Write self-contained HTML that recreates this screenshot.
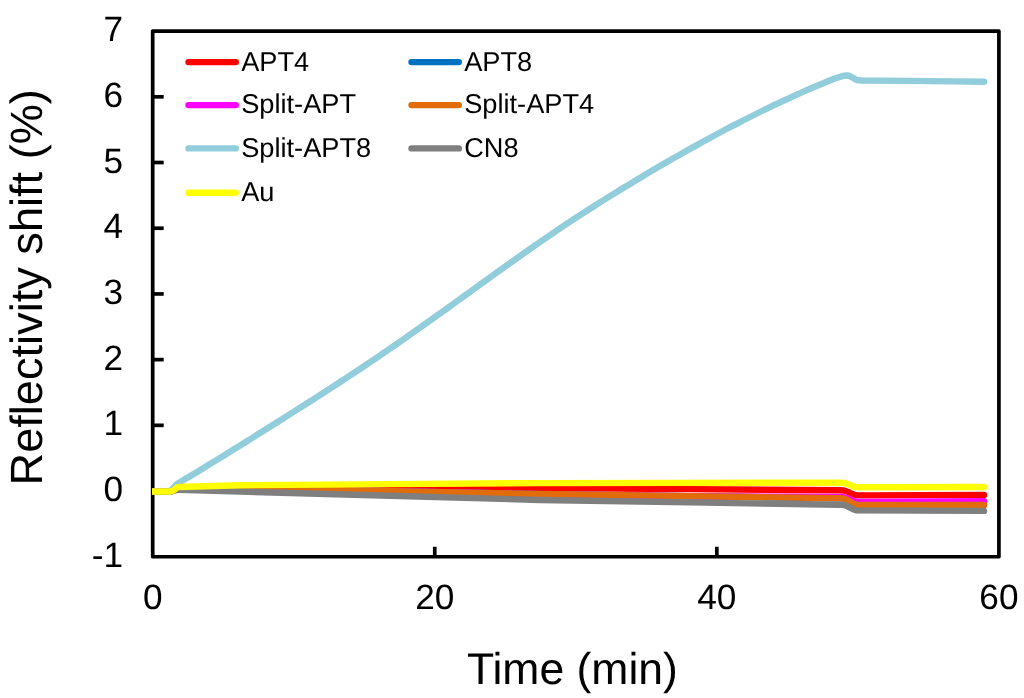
<!DOCTYPE html>
<html lang="en">
<head>
<meta charset="utf-8">
<title>Reflectivity shift vs Time</title>
<style>
html,body{margin:0;padding:0;background:#fff;}
body{width:1024px;height:698px;overflow:hidden;}
svg{display:block;will-change:transform;}
text{font-family:"Liberation Sans", Arial, Helvetica, sans-serif;fill:#000;text-rendering:geometricPrecision;}
.tick{font-size:35.2px;}
.leg{font-size:27.2px;}
</style>
</head>
<body>
<svg width="1024" height="698" viewBox="0 0 1024 698">
<rect x="0" y="0" width="1024" height="698" fill="#ffffff"/>
<rect x="152.7" y="31.1" width="846.20" height="525.65" fill="none" stroke="#000" stroke-width="3.7" stroke-linejoin="round"/>
<g stroke="#000" stroke-width="3.7" fill="none">
<line x1="152.7" y1="491.04" x2="163.7" y2="491.04"/>
<line x1="152.7" y1="425.34" x2="163.7" y2="425.34"/>
<line x1="152.7" y1="359.63" x2="163.7" y2="359.63"/>
<line x1="152.7" y1="293.93" x2="163.7" y2="293.93"/>
<line x1="152.7" y1="228.22" x2="163.7" y2="228.22"/>
<line x1="152.7" y1="162.51" x2="163.7" y2="162.51"/>
<line x1="152.7" y1="96.81" x2="163.7" y2="96.81"/>
<line x1="434.77" y1="556.75" x2="434.77" y2="546.75"/>
<line x1="716.83" y1="556.75" x2="716.83" y2="546.75"/>
</g>
<clipPath id="pc"><rect x="152" y="29.1" width="848.9" height="529.6"/></clipPath>
<g clip-path="url(#pc)">
<polyline points="152.7,491.5 170.2,491.5 172.0,490.9 173.3,490.5 174.6,489.6 176.0,488.5 177.3,487.6 178.6,487.2 240.0,487.0 390.0,487.5 540.0,488.0 690.0,489.1 840.0,490.3 844.0,490.5 846.0,491.1 848.0,491.9 850.0,492.9 852.0,493.8 854.0,494.6 856.0,495.2 858.0,495.4 984.0,494.9" fill="none" stroke="#FF0000" stroke-width="6.4" stroke-linecap="round" stroke-linejoin="round"/>
<polyline points="152.7,491.5 170.2,491.5 172.0,490.9 173.3,490.5 174.6,489.7 176.0,488.6 177.3,487.8 178.6,487.4 240.0,488.2 390.0,491.1 540.0,494.1 690.0,496.2 840.0,498.3 844.0,498.6 846.0,499.3 848.0,500.4 850.0,501.6 852.0,502.8 854.0,503.9 856.0,504.6 858.0,504.9 984.0,505.0" fill="none" stroke="#0070C0" stroke-width="6.4" stroke-linecap="round" stroke-linejoin="round"/>
<polyline points="152.7,491.5 170.2,491.5 172.0,490.9 173.3,490.5 174.6,489.7 176.0,488.6 177.3,487.8 178.6,487.4 240.0,488.2 390.0,491.1 540.0,494.1 690.0,496.3 840.0,497.0 844.0,497.2 846.0,497.8 848.0,498.6 850.0,499.4 852.0,500.3 854.0,501.1 856.0,501.7 858.0,501.9 984.0,501.3" fill="none" stroke="#FF00FF" stroke-width="6.4" stroke-linecap="round" stroke-linejoin="round"/>
<polyline points="152.7,491.5 170.2,491.5 172.0,490.9 173.3,490.5 174.6,489.7 176.0,488.6 177.3,487.8 178.6,487.4 240.0,488.2 390.0,491.1 540.0,494.0 690.0,496.1 840.0,498.3 844.0,498.6 846.0,499.3 848.0,500.4 850.0,501.6 852.0,502.8 854.0,503.9 856.0,504.6 858.0,504.9 984.0,505.0" fill="none" stroke="#E36C0A" stroke-width="6.4" stroke-linecap="round" stroke-linejoin="round"/>
<polyline points="152.7,491.5 170.2,491.5 177.0,484.0 180.0,482.2 186.0,478.6 192.0,475.0 198.0,471.4 204.0,467.7 210.0,464.1 216.0,460.4 222.0,456.7 228.0,453.0 234.0,449.3 240.0,445.6 246.0,441.8 252.0,438.1 258.0,434.3 264.0,430.5 270.0,426.8 276.0,423.0 282.0,419.2 288.0,415.4 294.0,411.6 300.0,407.8 306.0,404.0 312.0,400.2 318.0,396.4 324.0,392.5 330.0,388.6 336.0,384.7 342.0,380.8 348.0,376.9 354.0,372.9 360.0,369.0 366.0,364.9 372.0,360.9 378.0,356.8 384.0,352.7 390.0,348.6 396.0,344.5 402.0,340.3 408.0,336.1 414.0,331.9 420.0,327.7 426.0,323.4 432.0,319.2 438.0,314.9 444.0,310.6 450.0,306.3 456.0,302.0 462.0,297.6 468.0,293.3 474.0,289.0 480.0,284.6 486.0,280.3 492.0,276.0 498.0,271.7 504.0,267.4 510.0,263.1 516.0,258.8 522.0,254.6 528.0,250.3 534.0,246.2 540.0,242.0 546.0,237.9 552.0,233.8 558.0,229.7 564.0,225.7 570.0,221.7 576.0,217.8 582.0,213.9 588.0,210.0 594.0,206.2 600.0,202.4 606.0,198.6 612.0,194.9 618.0,191.2 624.0,187.5 630.0,183.9 636.0,180.3 642.0,176.7 648.0,173.1 654.0,169.6 660.0,166.1 666.0,162.6 672.0,159.1 678.0,155.7 684.0,152.3 690.0,148.9 696.0,145.6 702.0,142.3 708.0,139.0 714.0,135.7 720.0,132.5 726.0,129.3 732.0,126.2 738.0,123.1 744.0,120.0 750.0,117.0 756.0,114.0 762.0,111.0 768.0,108.1 774.0,105.2 780.0,102.4 786.0,99.6 792.0,96.8 798.0,94.1 804.0,91.4 810.0,88.8 816.0,86.3 822.0,83.7 828.0,81.3 834.0,78.8 843.0,75.9 846.0,75.5 849.3,75.8 852.5,77.6 856.5,80.0 861.0,80.5 908.9,80.9 951.9,81.4 984.1,81.8" fill="none" stroke="#92CDDC" stroke-width="6.4" stroke-linecap="round" stroke-linejoin="round"/>
<polyline points="152.7,491.5 170.2,491.5 172.0,490.9 173.3,490.8 174.6,490.5 176.0,490.2 177.3,489.9 178.6,489.8 240.0,491.6 390.0,495.8 540.0,500.0 690.0,502.4 840.0,504.8 844.0,505.0 846.0,505.7 848.0,506.6 850.0,507.6 852.0,508.6 854.0,509.5 856.0,510.2 858.0,510.4 984.0,510.9" fill="none" stroke="#7F7F7F" stroke-width="6.4" stroke-linecap="round" stroke-linejoin="round"/>
<polyline points="152.7,491.5 170.2,491.5 172.0,490.9 173.3,490.5 174.6,489.5 176.0,488.4 177.3,487.4 178.6,487.0 240.0,485.2 390.0,484.1 540.0,483.1 690.0,482.9 840.0,482.7 844.0,482.9 846.0,483.4 848.0,484.2 850.0,485.0 852.0,485.8 854.0,486.6 856.0,487.1 858.0,487.3 984.0,487.0" fill="none" stroke="#FFFF00" stroke-width="6.4" stroke-linecap="round" stroke-linejoin="round"/>
</g>
<g class="tick" text-anchor="end">
<text x="123" y="566.8">-1</text>
<text x="123" y="501.0">0</text>
<text x="123" y="435.3">1</text>
<text x="123" y="369.6">2</text>
<text x="123" y="303.9">3</text>
<text x="123" y="238.2">4</text>
<text x="123" y="172.5">5</text>
<text x="123" y="106.8">6</text>
<text x="123" y="41.1">7</text>
</g>
<g class="tick" text-anchor="middle">
<text x="152.7" y="608.6">0</text>
<text x="434.8" y="608.6">20</text>
<text x="716.8" y="608.6">40</text>
<text x="998.9" y="608.6">60</text>
</g>
<text x="572.4" y="683.8" text-anchor="middle" font-size="44.5">Time (min)</text>
<text transform="translate(42.1 287.3) rotate(-90)" text-anchor="middle" font-size="45.15">Reflectivity shift (%)</text>
<g class="leg">
<line x1="188.5" y1="62.1" x2="235.8" y2="62.1" stroke="#FF0000" stroke-width="6.4" stroke-linecap="round"/>
<text x="241.2" y="71.0">APT4</text>
<line x1="411.5" y1="62.1" x2="458.8" y2="62.1" stroke="#0070C0" stroke-width="6.4" stroke-linecap="round"/>
<text x="464.2" y="71.0">APT8</text>
<line x1="188.5" y1="105.1" x2="235.8" y2="105.1" stroke="#FF00FF" stroke-width="6.4" stroke-linecap="round"/>
<text x="241.2" y="113.4">Split-APT</text>
<line x1="411.5" y1="105.1" x2="458.8" y2="105.1" stroke="#E36C0A" stroke-width="6.4" stroke-linecap="round"/>
<text x="464.2" y="113.4">Split-APT4</text>
<line x1="188.5" y1="148.4" x2="235.8" y2="148.4" stroke="#92CDDC" stroke-width="6.4" stroke-linecap="round"/>
<text x="241.2" y="156.9">Split-APT8</text>
<line x1="411.5" y1="148.4" x2="458.8" y2="148.4" stroke="#7F7F7F" stroke-width="6.4" stroke-linecap="round"/>
<text x="464.2" y="156.9">CN8</text>
<line x1="188.5" y1="192.7" x2="235.8" y2="192.7" stroke="#FFFF00" stroke-width="6.4" stroke-linecap="round"/>
<text x="241.2" y="201.2">Au</text>
</g>
</svg>
</body>
</html>
